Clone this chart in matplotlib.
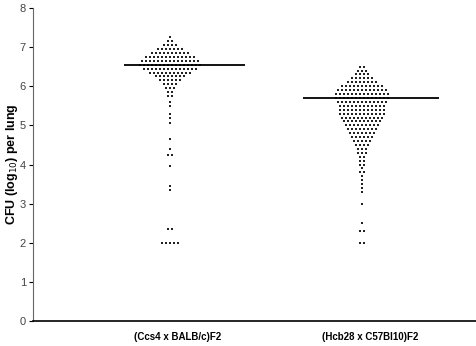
import numpy as np
import matplotlib.pyplot as plt

plt.rcParams["font.family"] = ["Liberation Sans", "DejaVu Sans"]

groups = ["(Ccs4 x BALB/c)F2", "(Hcb28 x C57Bl10)F2"]
medians = [6.55, 5.7]

# log10 CFU levels and number of mice at each level
ccs4_levels = [7.25, 7.15, 7.05, 6.95, 6.85, 6.75, 6.65, 6.55, 6.45, 6.35, 6.25,
               6.15, 6.05, 5.95, 5.85, 5.75, 5.6, 5.5, 5.3, 5.2, 5.05, 4.65,
               4.4, 4.25, 3.95, 3.45, 3.35, 2.35, 2.0]
ccs4_counts = [1, 2, 4, 7, 10, 13, 15, 16, 14, 11, 8,
               6, 4, 3, 2, 2, 1, 1, 1, 1, 1, 1,
               1, 2, 1, 1, 1, 2, 5]

hcb28_levels = [6.5, 6.4, 6.3, 6.2, 6.1, 6.0, 5.9, 5.8, 5.7, 5.6, 5.5, 5.4,
                5.3, 5.2, 5.1, 5.0, 4.9, 4.8, 4.7, 4.6, 4.5, 4.4, 4.3, 4.2,
                4.1, 4.0, 3.9, 3.8, 3.7, 3.6, 3.5, 3.4, 3.3, 3.0, 2.5, 2.3, 2.0]
hcb28_counts = [2, 3, 4, 6, 8, 11, 13, 14, 14, 13, 12, 12,
                12, 11, 10, 9, 8, 7, 6, 5, 4, 3, 3, 2,
                2, 2, 1, 2, 1, 1, 1, 1, 1, 1, 1, 2, 2]

fig = plt.figure(figsize=(4.76, 3.46), dpi=100)
ax = fig.add_axes([0.069, 0.072, 0.931, 0.905])

dx = 0.021
data = [(ccs4_levels, ccs4_counts), (hcb28_levels, hcb28_counts)]
for pos, (levels, counts) in zip([1, 2], data):
    xs, ys = [], []
    for lev, n in zip(levels, counts):
        offs = (np.arange(n) - (n - 1) / 2) * dx
        xs.extend(pos + offs)
        ys.extend([lev] * n)
    ax.scatter(xs, ys, s=3, marker="s", c="#222222", linewidths=0, zorder=3)

ax.hlines(medians[0], 0.76, 1.39, color="black", linewidth=1.3, zorder=4)
ax.hlines(medians[1], 1.69, 2.40, color="black", linewidth=1.3, zorder=4)

ax.set_xlim(0.284, 2.594)
ax.set_ylim(0, 8)
ax.set_yticks(range(0, 9))
ax.tick_params(axis="y", labelsize=8, labelcolor="#444444", length=3, width=0.8, pad=2)
ax.set_xticks([1.04, 2.04])
ax.set_xticklabels(groups, fontsize=7, fontweight="bold")
ax.tick_params(axis="x", length=0, pad=8)
ax.set_ylabel("CFU (log$_{10}$) per lung", fontsize=9, fontweight="bold")
ax.yaxis.set_label_coords(-0.028, 0.5)

ax.spines["top"].set_visible(False)
ax.spines["right"].set_visible(False)
ax.spines["left"].set_color("#666666")
ax.spines["bottom"].set_linewidth(1.2)

plt.savefig("out.png", dpi=100)
